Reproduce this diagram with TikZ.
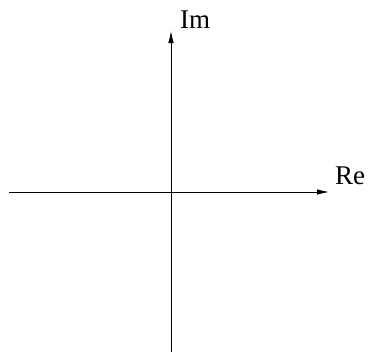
\documentclass[tikz,border=0pt]{standalone}
\usepackage{fontspec}
\setmainfont{Liberation Serif}
\usetikzlibrary{arrows.meta}
\tikzset{
  axis/.style={line width=0.8pt, -{Latex[length=12pt,width=5.5pt]}},
  axlabel/.style={font=\fontsize{27}{31}\selectfont, inner sep=0pt, anchor=base west}
}
\begin{document}
\begin{tikzpicture}[x=1pt,y=-1pt]
\useasboundingbox (0,0) rectangle (369,356);
\coordinate (left) at (9,192);
\coordinate (right) at (329,192);
\coordinate (bottom) at (171,352);
\coordinate (top) at (171,31);
\draw[axis] (left) -- (right);
\draw[axis] (bottom) -- (top);
\node[axlabel] (im) at (180,28) {Im};
\node[axlabel] (re) at (335,184) {Re};
\end{tikzpicture}
\end{document}
